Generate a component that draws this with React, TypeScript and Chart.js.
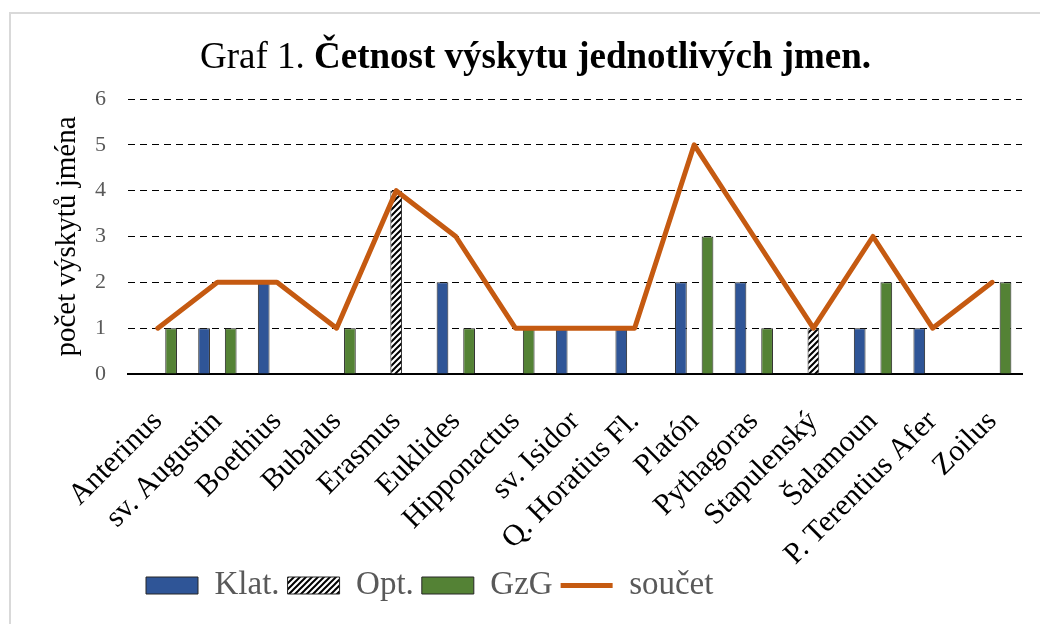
import React, { useEffect, useRef } from 'react';
import { Chart, registerables } from 'chart.js';

Chart.register(...registerables);

const categories = [
  'Anterinus', 'sv. Augustin', 'Boethius', 'Bubalus', 'Erasmus', 'Euklides', 'Hipponactus',
  'sv. Isidor', 'Q. Horatius Fl.', 'Platón', 'Pythagoras', 'Stapulenský', 'Šalamoun',
  'P. Terentius Afer', 'Zoilus',
];
const klat = [null, 1, 2, null, null, 2, null, 1, 1, 2, 2, null, 1, 1, null];
const opt = [null, null, null, null, 4, null, null, null, null, null, null, 1, null, null, null];
const gzg = [1, 1, null, 1, null, 1, 1, null, null, 3, 1, null, 2, null, 2];
const soucet = [1, 2, 2, 1, 4, 3, 1, 1, 1, 5, 3, 1, 3, 1, 2];
const seriesNames = ['Klat.', 'Opt.', 'GzG', 'součet'];
const yMin = 0;
const yMax = 6;
const yStep = 1;
const titlePlain = 'Graf 1. ';
const titleBold = 'Četnost výskytu jednotlivých jmen.';
const yTitle = 'počet výskytů jména';

const FONT = "'Liberation Serif', 'Times New Roman', serif";

function makeHatch(): CanvasPattern | string {
  const c = document.createElement('canvas');
  c.width = 6;
  c.height = 6;
  const x = c.getContext('2d');
  if (!x) return '#000';
  x.fillStyle = '#fff';
  x.fillRect(0, 0, 6, 6);
  x.strokeStyle = '#000';
  x.lineWidth = 2;
  x.beginPath();
  x.moveTo(-1, 7); x.lineTo(7, -1);
  x.moveTo(-1, 1); x.lineTo(1, -1);
  x.moveTo(5, 7); x.lineTo(7, 5);
  x.stroke();
  return x.createPattern(c, 'repeat') || '#000';
}

const legendShift = {
  id: 'legendShift',
  afterLayout(chart: any) {
    const l = chart.legend;
    if (l) {
      const w = l.right - l.left;
      l.left = 127;
      l.right = 127 + w;
      l.top -= 8;
      l.bottom -= 8;
    }
  },
};

export default function App() {
  const ref = useRef<HTMLCanvasElement | null>(null);

  useEffect(() => {
    if (!ref.current) return;
    const hatch = makeHatch();
    const barCommon = {
      borderColor: '#262626',
      borderWidth: 1,
      categoryPercentage: 0.67,
      barPercentage: 0.88,
      order: 1,
    };
    const chart = new Chart(ref.current, {
      type: 'bar',
      data: {
        labels: categories,
        datasets: [
          { type: 'bar', label: seriesNames[0], data: klat, backgroundColor: '#2F5597', ...barCommon },
          { type: 'bar', label: seriesNames[1], data: opt, backgroundColor: hatch as any, ...barCommon },
          { type: 'bar', label: seriesNames[2], data: gzg, backgroundColor: '#548235', ...barCommon },
          {
            type: 'line',
            label: seriesNames[3],
            data: soucet,
            borderColor: '#C55A11',
            backgroundColor: '#C55A11',
            borderWidth: 5,
            borderJoinStyle: 'round',
            borderCapStyle: 'round',
            pointRadius: 0,
            tension: 0,
            order: 0,
          } as any,
        ],
      },
      options: {
        responsive: false,
        animation: false,
        layout: { padding: { left: 36, right: 18, top: 85, bottom: 4 } },
        plugins: {
          tooltip: { enabled: false },
          title: { display: false },
          legend: {
            position: 'bottom',
            align: 'start',
            labels: {
              usePointStyle: true,
              pointStyleWidth: 52,
              boxHeight: 17,
              padding: 8,
              color: '#595959',
              font: { family: FONT, size: 33 },
              sort: (a: any, b: any) => a.datasetIndex - b.datasetIndex,
              generateLabels: (ch: any) => {
                const items = (Chart.defaults as any).plugins.legend.labels.generateLabels(ch);
                items.forEach((it: any) => {
                  it.pointStyle = it.datasetIndex === 3 ? 'line' : 'rect';
                  if (it.datasetIndex === 3) it.lineWidth = 5;
                });
                return items;
              },
            },
          },
        },
        scales: {
          x: {
            grid: { display: false },
            border: { display: true, color: '#000', width: 2 },
            ticks: {
              color: '#000',
              font: { family: FONT, size: 30 },
              minRotation: 45,
              maxRotation: 45,
              autoSkip: false,
              padding: 22,
            },
            afterFit: (s: any) => {
              s.height = 195;
              s.paddingRight = 0;
              s.paddingLeft = 0;
            },
          },
          y: {
            min: yMin,
            max: yMax,
            border: { display: false, dash: [7, 5] },
            grid: {
              color: '#000',
              lineWidth: 1,
              drawTicks: false,
            },
            ticks: {
              stepSize: yStep,
              color: '#595959',
              font: { family: FONT, size: 22 },
              padding: 22,
            },
            title: {
              display: true,
              text: yTitle,
              color: '#000',
              font: { family: FONT, size: 29 },
              padding: { top: 3, bottom: 4 },
            },
            afterFit: (s: any) => { s.width = 81; },
          },
        },
      },
      plugins: [legendShift],
    } as any);
    return () => chart.destroy();
  }, []);

  return (
    <div
      style={{
        position: 'fixed',
        left: 9,
        top: 12,
        width: 1040,
        height: 620,
        borderLeft: '2px solid #d9d9d9',
        borderTop: '2px solid #d9d9d9',
        background: '#fff',
        overflow: 'hidden',
      }}
    >
      <div
        style={{
          position: 'absolute',
          left: 189,
          top: 23,
          fontFamily: FONT,
          fontSize: 37,
          lineHeight: '37px',
          color: '#000',
          whiteSpace: 'nowrap',
        }}
      >
        {titlePlain}
        <b>{titleBold}</b>
      </div>
      <canvas ref={ref} width={1029} height={610} style={{ display: 'block' }} />
    </div>
  );
}
